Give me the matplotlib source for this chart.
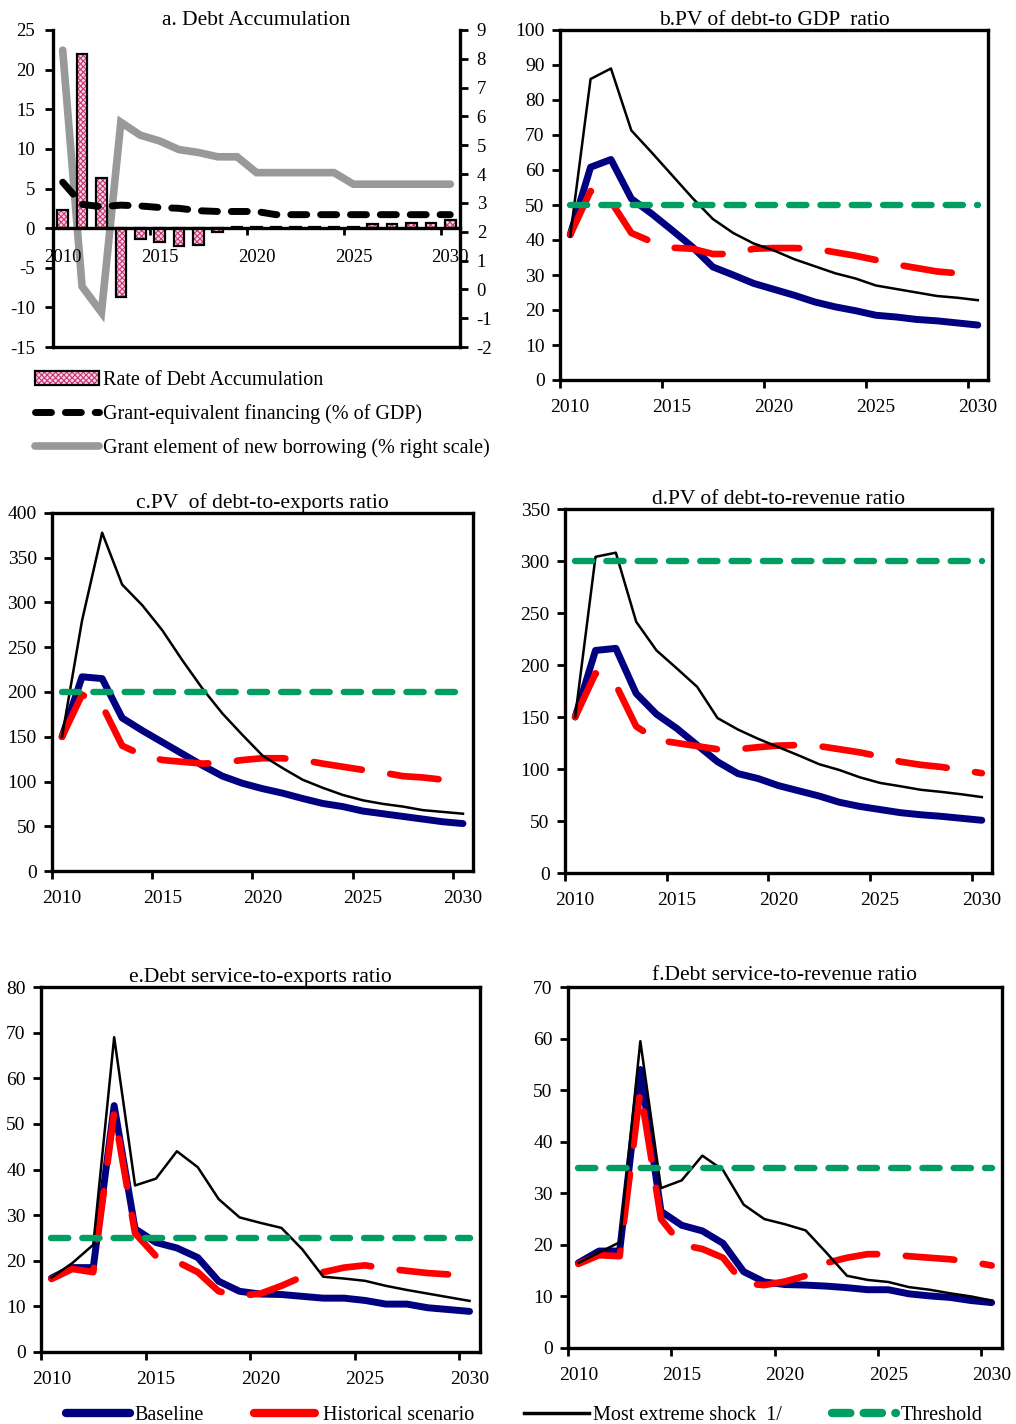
import matplotlib
matplotlib.use('Agg')
import matplotlib.pyplot as plt
from matplotlib.patches import Patch
from matplotlib.lines import Line2D
from matplotlib.legend_handler import HandlerTuple
import numpy as np

plt.rcParams['font.family'] = ['Liberation Serif', 'DejaVu Serif']
plt.rcParams['hatch.linewidth'] = 0.8
plt.rcParams['axes.unicode_minus'] = False

# ---------------- data ----------------
years = list(range(2010, 2031))
year_labels = ['2010', '2015', '2020', '2025', '2030']

# panel a
debt_accum = [2.3, 22.0, 6.3, -8.7, -1.4, -1.7, -2.2, -2.1, -0.5, 0.2, 0.2,
              0.2, 0.2, 0.2, 0.2, 0.2, 0.5, 0.5, 0.7, 0.7, 1.0]
grant_equiv = [5.8, 3.0, 2.7, 2.9, 2.8, 2.6, 2.5, 2.2, 2.1, 2.1, 2.1,
               1.7, 1.7, 1.7, 1.7, 1.7, 1.7, 1.7, 1.7, 1.7, 1.7]
grant_element = [8.3, 0.1, -0.8, 5.8, 5.35, 5.15, 4.85, 4.75, 4.6, 4.6, 4.05,
                 4.05, 4.05, 4.05, 4.05, 3.65, 3.65, 3.65, 3.65, 3.65, 3.65]

# panel b: PV of debt-to-GDP
b_base = [41.5, 60.8, 63.0, 51.8, 47.5, 42.8, 38.0, 32.3, 30.0, 27.6, 25.9,
          24.2, 22.3, 20.9, 19.8, 18.5, 18.0, 17.3, 16.9, 16.3, 15.7]
b_hist = [41.5, 54.0, 51.0, 42.0, 39.5, 37.8, 37.5, 36.0, 36.0, 37.5, 37.7,
          37.7, 37.5, 36.5, 35.5, 34.3, 33.0, 32.0, 31.0, 30.5, 30.2]
b_shock = [41.0, 86.0, 89.0, 71.3, 65.0, 58.5, 52.0, 46.0, 42.0, 39.0, 37.0,
           34.5, 32.5, 30.5, 29.0, 27.0, 26.0, 25.0, 24.0, 23.5, 22.8]
b_thr = 50

# panel c: PV of debt-to-exports
c_base = [150, 217, 215, 171, 157, 144, 131, 118, 106, 98, 92,
          87, 81, 75.5, 72, 67, 64, 61, 58, 55, 53]
c_hist = [150, 197, 185, 140, 129.5, 124, 122, 120, 121, 124, 126,
          126, 124, 120, 116.5, 113, 110, 106, 104.5, 102, 100]
c_shock = [150, 280, 378, 320, 297, 269, 235.5, 204, 176, 152, 129,
           115, 102, 93, 85, 79, 75, 72, 68, 66, 64]
c_thr = 200

# panel d: PV of debt-to-revenue
d_base = [150, 214, 216, 172.6, 152.7, 139, 123, 107, 95.6, 90.8, 84,
          79, 74, 68, 64, 61, 58, 56, 54.5, 52.6, 50.7]
d_hist = [150, 192, 181, 141, 128, 125, 122, 119, 119, 121, 122.5,
          123, 122, 119, 116, 112, 107, 104, 102, 99, 96]
d_shock = [150, 304, 308, 241.6, 214, 196.7, 179, 149, 138, 129, 121,
           113, 104.6, 99, 92, 86.6, 83.4, 80, 78, 75.7, 73]
d_thr = 300

# panel e: debt service-to-exports
e_base = [16.2, 18.5, 18.5, 54.0, 27.0, 24.0, 22.8, 20.7, 15.5, 13.3, 12.7,
          12.6, 12.2, 11.8, 11.8, 11.3, 10.5, 10.5, 9.7, 9.3, 8.9]
e_hist = [16.0, 18.2, 17.5, 52.5, 26.0, 21.0, 19.8, 17.5, 13.3, 12.3, 12.8,
          14.5, 16.5, 17.5, 18.5, 19.0, 18.3, 17.8, 17.3, 17.0, 16.2]
e_shock = [16.3, 19.5, 23.5, 69.0, 36.5, 38.0, 44.0, 40.5, 33.5, 29.5, 28.3,
           27.2, 22.5, 16.5, 16.1, 15.6, 14.5, 13.6, 12.8, 12.0, 11.2]
e_thr = 25

# panel f: debt service-to-revenue
f_base = [16.5, 18.8, 18.8, 54.0, 26.5, 23.8, 22.7, 20.3, 14.8, 12.8, 12.3,
          12.2, 12.0, 11.7, 11.3, 11.3, 10.5, 10.1, 9.8, 9.2, 8.8]
f_hist = [16.3, 18.0, 17.8, 50.0, 25.0, 20.0, 19.2, 17.5, 12.5, 12.2, 12.9,
          14.0, 16.5, 17.5, 18.2, 18.2, 17.8, 17.5, 17.2, 16.7, 16.0]
f_shock = [16.5, 18.5, 20.5, 59.5, 31.0, 32.5, 37.3, 34.5, 27.8, 25.0, 24.0,
           22.8, 18.5, 14.0, 13.2, 12.8, 11.8, 11.3, 10.6, 10.0, 9.2]
f_thr = 35

# ---------------- styles ----------------
NAVY = '#000080'
RED = '#FF0000'
GREEN = '#009E60'
GREY = '#999999'
PINK_HATCH = '#cc3377'
TICK_FS = 14
TITLE_FS = 15.5
LEG_FS = 14.5

W, H = 1016, 1424
fig = plt.figure(figsize=(W / 100, H / 100), dpi=100)


def add_ax(x0, y0, x1, y1):
    return fig.add_axes([x0 / W, 1 - y1 / H, (x1 - x0) / W, (y1 - y0) / H])


x = np.arange(len(years))
cat_ticks = [0, 5, 10, 15, 20]
bound_ticks = [-0.5, 4.5, 9.5, 14.5, 19.5]

# ---------------- panel a ----------------
axa = add_ax(53, 30, 460, 347)
axr = axa.twinx()
axa.set_zorder(axr.get_zorder() + 1)
axa.patch.set_visible(False)

axr.plot(x, grant_element, color=GREY, lw=5.5, solid_capstyle='round',
         solid_joinstyle='miter', zorder=2)
axa.bar(x, debt_accum, width=0.55, color='#f7d6e4', edgecolor=PINK_HATCH,
        hatch='xxxxxx', lw=0, zorder=2)
axa.bar(x, debt_accum, width=0.55, fill=False, edgecolor='black', lw=1.6,
        zorder=3)
axa.plot(x, grant_equiv, color='black', lw=5, dashes=(2.3, 2.0),
         dash_capstyle='round', zorder=4)

axa.set_xlim(-0.5, 20.5)
axa.set_ylim(-15, 25)
axr.set_ylim(-2, 9)
axa.set_yticks(np.arange(-15, 26, 5))
axr.set_yticks(np.arange(-2, 10, 1))
axa.spines['bottom'].set_position(('data', 0))
axa.spines['top'].set_visible(False)
axa.spines['right'].set_visible(False)
for s in ['left', 'top', 'bottom']:
    axr.spines[s].set_visible(False)
axa.spines['left'].set_linewidth(2.4)
axa.spines['bottom'].set_linewidth(2.4)
axr.spines['right'].set_linewidth(2.4)
axa.axhline(-15, color='black', lw=2.4, clip_on=False, zorder=5)
axa.set_xticks([4.5, 9.5, 14.5, 19.5])
axa.set_xticklabels([])
axa.set_xticks(cat_ticks, minor=True)
axa.set_xticklabels(year_labels, minor=True)
axa.tick_params(axis='x', which='minor', length=0, pad=15, labelsize=13.5)
axa.tick_params(axis='x', which='major', length=5, width=2, direction='out')
axa.tick_params(axis='y', length=6, width=2, direction='out', pad=7, labelsize=13.5)
axr.tick_params(axis='y', length=6, width=2, direction='out', pad=6, labelsize=13.5)
axa.set_title('a. Debt Accumulation', fontsize=TITLE_FS, pad=1)

h_bar = (Patch(facecolor='#f7d6e4', edgecolor=PINK_HATCH, hatch='xxxxxx', lw=0),
         Patch(fill=False, edgecolor='black', lw=1.6))
h_ge = Line2D([], [], color='black', lw=5, dashes=(2.3, 2.0), dash_capstyle='round')
h_gr = Line2D([], [], color=GREY, lw=5.5, solid_capstyle='round')
axa.legend([h_bar, h_ge, h_gr],
           ['Rate of Debt Accumulation', 'Grant-equivalent financing (% of GDP)',
            'Grant element of new borrowing (% right scale)'],
           handler_map={tuple: HandlerTuple(ndivide=1, pad=0)},
           loc='upper left', bbox_to_anchor=(35 / W, 1 - 371 / H),
           bbox_transform=fig.transFigure, frameon=False, fontsize=LEG_FS,
           handlelength=3.2, handletextpad=0.2, labelspacing=0.7,
           borderpad=0, borderaxespad=0)


# ---------------- panels b-f ----------------
def panel(box, base, hist, shock, thr, ymax, ystep, title, tpad):
    ax = add_ax(*box)
    ax.plot(x, base, color=NAVY, lw=5, solid_capstyle='round', zorder=2)
    ax.plot(x, hist, color=RED, lw=4.8, dashes=(7.3, 4.3),
            dash_capstyle='round', zorder=3)
    ax.plot(x, shock, color='black', lw=1.8, zorder=4)
    ax.plot(x, [thr] * len(x), color=GREEN, lw=4.6, dashes=(2.7, 2.2),
            dash_capstyle='round', zorder=5)
    ax.set_xlim(-0.5, 20.5)
    ax.set_ylim(0, ymax)
    ax.set_yticks(np.arange(0, ymax + 1, ystep))
    ax.set_xticks(bound_ticks)
    ax.set_xticklabels([])
    ax.set_xticks(cat_ticks, minor=True)
    ax.set_xticklabels(year_labels, minor=True)
    ax.tick_params(axis='x', which='minor', length=0, pad=14, labelsize=TICK_FS)
    ax.tick_params(axis='x', which='major', length=6, width=2, direction='out')
    ax.tick_params(axis='y', length=6, width=2, direction='out', pad=5,
                   labelsize=TICK_FS)
    for s in ax.spines.values():
        s.set_linewidth(2.4)
    ax.set_title(title, fontsize=TITLE_FS, pad=tpad)
    return ax


panel((560, 30, 988, 380), b_base, b_hist, b_shock, b_thr, 100, 10,
      'b.PV of debt-to GDP  ratio', 3)
panel((52, 513, 473, 871), c_base, c_hist, c_shock, c_thr, 400, 50,
      'c.PV  of debt-to-exports ratio', 0)
panel((565, 509, 992, 873), d_base, d_hist, d_shock, d_thr, 350, 50,
      'd.PV of debt-to-revenue ratio', -1)
panel((41, 987, 480, 1352), e_base, e_hist, e_shock, e_thr, 80, 10,
      'e.Debt service-to-exports ratio', 1)
panel((568, 987, 1002, 1348), f_base, f_hist, f_shock, f_thr, 70, 10,
      'f.Debt service-to-revenue ratio', 5)

# ---------------- bottom legend ----------------
hb = Line2D([], [], color=NAVY, lw=6, solid_capstyle='round')
hh = Line2D([], [], color=RED, lw=6, dashes=(7.3, 4.3), dash_capstyle='round')
hs = Line2D([], [], color='black', lw=2.5)
ht = Line2D([], [], color=GREEN, lw=6, dashes=(2.2, 1.6), dash_capstyle='round')
fig.legend([hb, hh, hs, ht],
           ['Baseline', 'Historical scenario', 'Most extreme shock  1/', 'Threshold'],
           loc='center', bbox_to_anchor=(524 / W, 1 - 1415 / H), ncol=4,
           frameon=False, fontsize=LEG_FS, handlelength=3.2, handletextpad=0.2,
           columnspacing=2.5, borderpad=0, borderaxespad=0)

fig.savefig('out.png', dpi=100)
